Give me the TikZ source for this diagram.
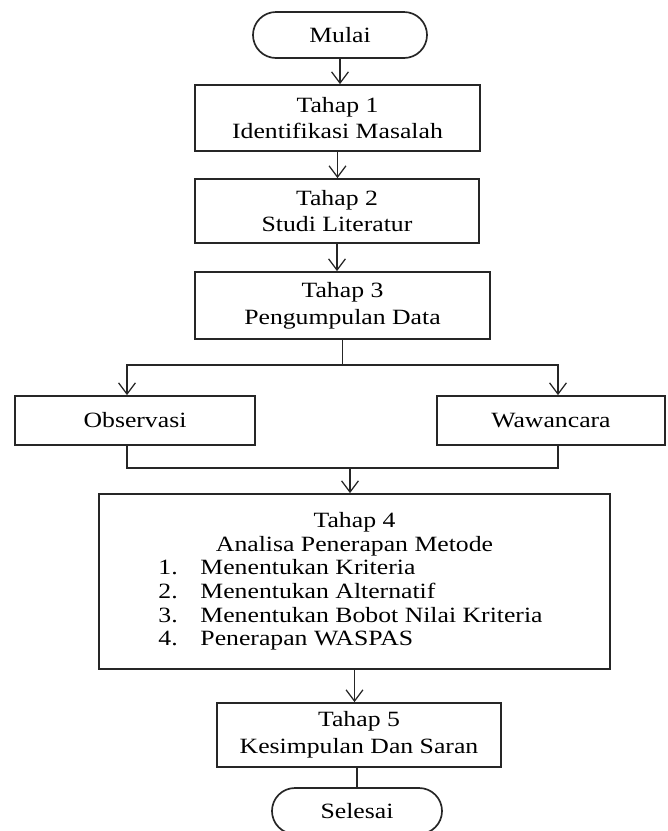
\documentclass[tikz,border=0pt]{standalone}
\usepackage{fontspec}
\setmainfont[FakeStretch=1.18]{Liberation Serif}
\usetikzlibrary{shapes.misc,arrows.meta}
\newcommand{\stepitem}[2]{\makebox[9.8cm][l]{\makebox[1.05cm][l]{#1}#2}}

\begin{document}
\begin{tikzpicture}[x=0.025cm, y=-0.025cm,
        stepbox/.style={rectangle, draw=black!85, line width=1.2pt, align=center, inner sep=0pt, font=\fontsize{15.5pt}{19pt}\selectfont},
        terminal/.style={rounded rectangle, draw=black!85, line width=1.2pt, inner sep=0pt, font=\fontsize{15.5pt}{19pt}\selectfont},
        conn/.style={line width=0.9pt, draw=black!85},
        arr/.style={conn, -{Straight Barb[length=8pt,width=12pt]}}]
        \useasboundingbox (0,0) rectangle (667,831);

        \node[terminal, minimum width=4.35cm, minimum height=1.15cm] at (340,35)    (mulai) {Mulai};
        \node[stepbox, minimum width=7.125cm, minimum height=1.65cm] at (337.5,118) (t1)    {Tahap 1\\Identifikasi Masalah};
        \node[stepbox, minimum width=7.1cm, minimum height=1.6cm]    at (337,211)   (t2)    {Tahap 2\\Studi Literatur};
        \node[stepbox, minimum width=7.375cm, minimum height=1.675cm] at (342.5,305.5) (t3) {Tahap 3\\Pengumpulan Data};
        \node[stepbox, minimum width=6cm, minimum height=1.225cm]    at (135,420.5) (obs)   {Observasi};
        \node[stepbox, minimum width=5.7cm, minimum height=1.225cm]  at (551,420.5) (waw)   {Wawancara};
        \node[stepbox, minimum width=12.775cm, minimum height=4.375cm, font=\fontsize{15.5pt}{16.8pt}\selectfont] at (354.5,581.5) (t4)
            {Tahap 4\\Analisa Penerapan Metode\\
             \stepitem{1.}{Menentukan Kriteria}\\
             \stepitem{2.}{Menentukan Alternatif}\\
             \stepitem{3.}{Menentukan Bobot Nilai Kriteria}\\
             \stepitem{4.}{Penerapan WASPAS}};
        \node[stepbox, minimum width=7.1cm, minimum height=1.6cm]    at (359,735)   (t5)    {Tahap 5\\Kesimpulan Dan Saran};
        \node[terminal, minimum width=4.25cm, minimum height=1.15cm] at (357,811)   (sel)   {Selesai};

        \coordinate (fork) at (t3.south |- 0,365);
        \coordinate (join) at (350,468);

        \draw[arr]  (mulai.south) -- (mulai.south |- t1.north);
        \draw[arr]  (t1.south) -- (t1.south |- t2.north);
        \draw[arr]  (t2.south) -- (t2.south |- t3.north);
        \draw[conn] (t3.south) -- (fork);
        \draw[arr]  (fork) -| ([xshift=-0.2cm]obs.north);
        \draw[arr]  (fork) -| ([xshift=0.175cm]waw.north);
        \draw[conn] ([xshift=-0.2cm]obs.south) |- (join) -| ([xshift=0.175cm]waw.south);
        \draw[arr]  (join) -- (join |- t4.north);
        \draw[arr]  (t4.south) -- (t4.south |- t5.north);
        \draw[conn] (sel.north |- t5.south) -- (sel.north);
    \end{tikzpicture}
\end{document}
